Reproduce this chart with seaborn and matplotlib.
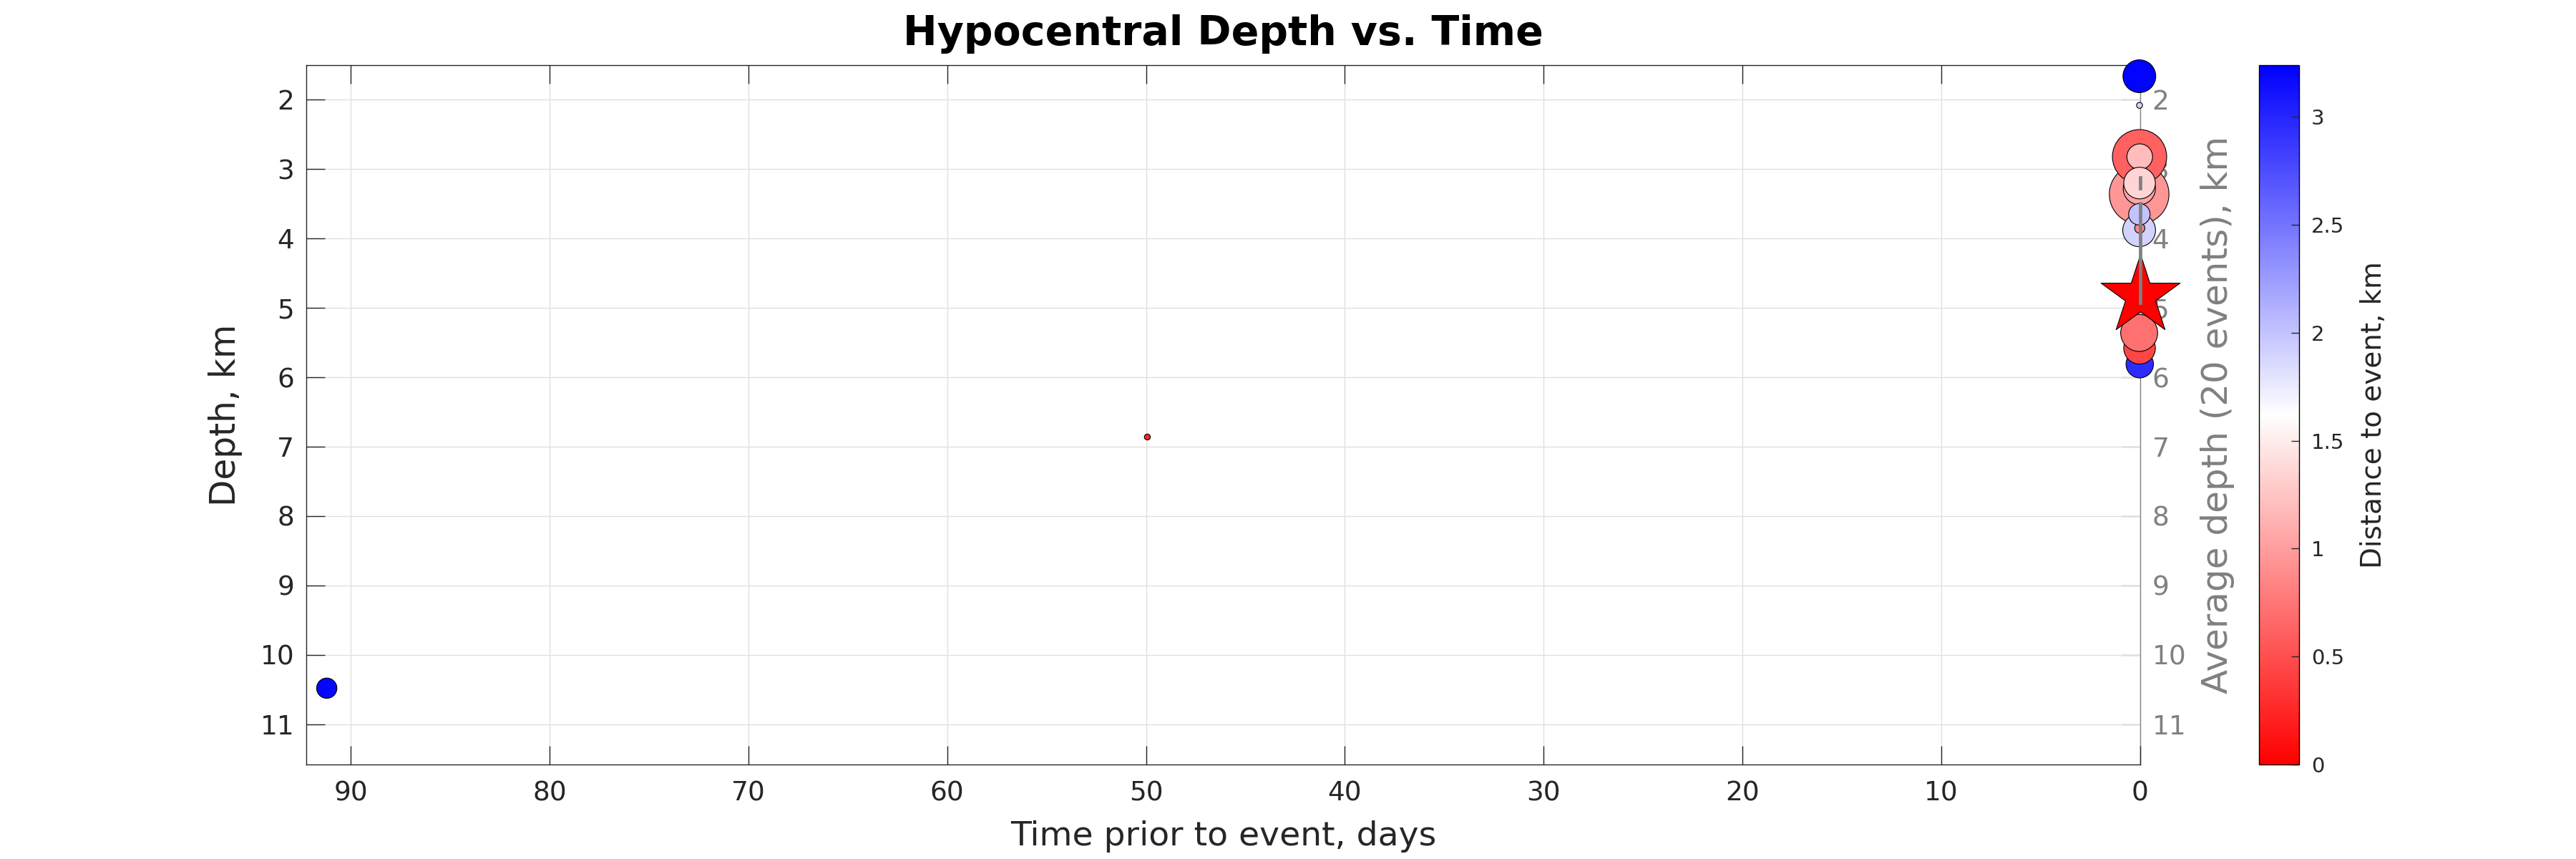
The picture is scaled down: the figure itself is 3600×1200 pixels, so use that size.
import numpy as np
import pandas as pd
import matplotlib
matplotlib.use("Agg")
import matplotlib.pyplot as plt
import seaborn as sns
from matplotlib.colors import LinearSegmentedColormap, Normalize
from matplotlib.cm import ScalarMappable
from matplotlib.ticker import FormatStrFormatter

# events: time before mainshock (days), depth (km), distance to mainshock (km), magnitude
times = [91.2, 49.93, 0.05, 0.03, 0.04, 0.02, 0.03, 0.05, 0.02, 0.04,
         0.06, 0.02, 0.03, 0.05, 0.04, 0.03]
depths = [10.48, 6.86, 3.36, 2.82, 3.28, 2.82, 3.20, 3.88, 3.85, 3.65,
          5.20, 5.81, 5.58, 5.36, 1.66, 2.08]
distances = [3.20, 0.25, 0.95, 0.62, 1.05, 1.20, 1.35, 1.90, 0.85, 2.00,
             1.90, 2.95, 0.45, 0.72, 3.22, 1.90]
mags = [1.7, 0.5, 5.0, 4.55, 2.7, 2.15, 2.65, 2.75, 0.85, 1.8,
        2.3, 2.3, 2.65, 3.1, 2.75, 0.5]

# mainshock
main_time = 0.0
main_depth = 4.82

# running average depth (20 events)
avg_times = [0.01, 0.01, np.nan, 0.01, 0.01, 0.01, 0.01, 0.01]
avg_depths = [3.12, 3.27, np.nan, 3.49, 3.9, 4.3, 4.6, 4.93]

df = pd.DataFrame({"time": times, "depth": depths, "dist": distances, "mag": mags})

cmap = LinearSegmentedColormap.from_list("rwb", ["red", "white", "blue"])
norm = Normalize(0, 3.24)

fig = plt.figure(figsize=(36, 12), dpi=100)
ax = fig.add_axes([0.1189, 0.11, 0.7119, 0.8142])
ax2 = ax.twinx()
ax.set_zorder(2)
ax.patch.set_visible(False)

dark = "0.15"
gray = "0.5"

ax.grid(True, color="0.88", lw=1.0)
ax.set_axisbelow(True)

sns.scatterplot(data=df, x="time", y="depth", hue="dist", palette=cmap,
                hue_norm=norm, s=(12 * df["mag"]) ** 2, edgecolor="black",
                linewidth=0.8, legend=False, ax=ax, zorder=3, clip_on=False)

# mainshock star
ax.scatter([main_time], [main_depth], marker="*", s=7000, color=cmap(norm(0)),
           edgecolor="black", linewidth=0.8, zorder=4, clip_on=False)

# average depth line
ax.plot(avg_times, avg_depths, color=gray, lw=3.4, zorder=5, clip_on=False)

ax.set_xlim(92.23, 0)
ax.set_ylim(11.58, 1.5)
ax2.set_ylim(11.58, 1.5)
ax.set_xticks(np.arange(0, 91, 10))
ax.set_yticks(np.arange(2, 12))
ax2.set_yticks(np.arange(2, 12))

ax.tick_params(axis="both", direction="in", length=19, width=1.0, colors=dark,
               labelsize=27, top=True, right=False, pad=12)
ax.tick_params(axis="x", pad=16)
ax2.tick_params(axis="y", direction="in", length=19, width=1.0, colors=gray,
                labelsize=27, pad=12)

for side in ["left", "top", "bottom"]:
    ax.spines[side].set_color(dark)
    ax.spines[side].set_linewidth(1.0)
    ax2.spines[side].set_visible(False)
ax.spines["right"].set_visible(False)
ax2.spines["right"].set_color(gray)
ax2.spines["right"].set_linewidth(1.0)

ax.set_xlabel("Time prior to event, days", fontsize=34, color=dark, labelpad=14)
ax.set_ylabel("Depth, km", fontsize=35, color=dark, labelpad=18)
ax2.set_ylabel("Average depth (20 events), km", fontsize=36, color=gray, labelpad=14)
ax.set_title("Hypocentral Depth vs. Time", fontsize=41, fontweight="bold", pad=20)

# colorbar
cax = fig.add_axes([3157 / 3600, 0.11, 56 / 3600, 0.8142])
sm = ScalarMappable(norm=norm, cmap=cmap)
cb = fig.colorbar(sm, cax=cax)
cb.set_ticks([0, 0.5, 1, 1.5, 2, 2.5, 3])
cb.ax.yaxis.set_major_formatter(FormatStrFormatter("%g"))
cb.ax.tick_params(direction="in", length=8, width=1.0, labelsize=21, colors=dark, pad=12)
cb.outline.set_linewidth(1.0)
cb.set_label("Distance to event, km", fontsize=28, color=dark, labelpad=16)

fig.savefig("out.png", dpi=100)
